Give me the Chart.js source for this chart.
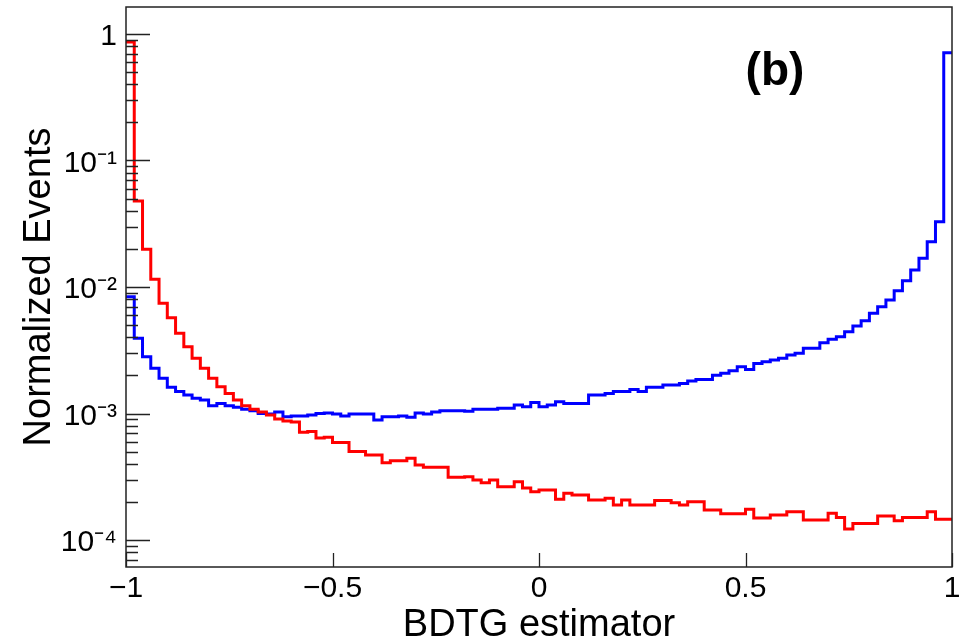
<!DOCTYPE html>
<html><head><meta charset="utf-8">
<script src="https://cdn.jsdelivr.net/npm/chart.js@4/dist/chart.umd.min.js"></script>
<style>html,body{margin:0;padding:0;background:#fff;overflow:hidden;} canvas{display:block;}</style>
</head><body>
<canvas id="c" width="959" height="643"></canvas>
<script>
// ---- data (100 bins from -1 to 1) ----
const xMin = -1, xMax = 1;
const background = [
 0.865, 0.0479, 0.0199, 0.0115, 0.00744, 0.00572, 0.00430, 0.00337, 0.00273, 0.00228,
 0.00190, 0.00163, 0.00144, 0.00128, 0.00115, 0.00108, 0.00103, 0.000973, 0.000905, 0.000873,
 0.000857, 0.00071, 0.00072, 0.00064, 0.00065, 0.00059, 0.00059, 0.00050, 0.00050, 0.00047,
 0.00047, 0.000408, 0.000423, 0.000423, 0.000442, 0.000392, 0.000376, 0.000376, 0.000376, 0.000313,
 0.000313, 0.000316, 0.000298, 0.000284, 0.000298, 0.000264, 0.000264, 0.000289, 0.000258, 0.000241,
 0.000248, 0.000248, 0.000210, 0.000234, 0.000227, 0.000227, 0.000207, 0.000207, 0.000214, 0.000189,
 0.000207, 0.000189, 0.000189, 0.000189, 0.000205, 0.000205, 0.000197, 0.000189, 0.000201, 0.000201,
 0.000173, 0.000173, 0.000161, 0.000161, 0.000161, 0.000175, 0.000149, 0.000149, 0.000158, 0.000158,
 0.000167, 0.000167, 0.000144, 0.000144, 0.000144, 0.000163, 0.000151, 0.000122, 0.000135, 0.000135,
 0.000135, 0.000155, 0.000155, 0.000142, 0.000151, 0.000151, 0.000151, 0.000167, 0.000146, 0.000146
];
const signal = [
 0.00838, 0.00393, 0.00281, 0.00228, 0.00190, 0.00161, 0.00149, 0.00140, 0.00132, 0.00128,
 0.00115, 0.00120, 0.00115, 0.00112, 0.00108, 0.00105, 0.00100, 0.000991, 0.00103, 0.000944,
 0.000955, 0.000955, 0.000973, 0.00100, 0.00101, 0.00099, 0.000955, 0.000991, 0.000991, 0.000991,
 0.000889, 0.000944, 0.000944, 0.000955, 0.000933, 0.00101, 0.000991, 0.00103, 0.00105, 0.00105,
 0.00105, 0.00104, 0.00108, 0.00108, 0.00108, 0.00110, 0.00110, 0.00117, 0.00113, 0.00122,
 0.00113, 0.00117, 0.00124, 0.00120, 0.00120, 0.00120, 0.00140, 0.00140, 0.00144, 0.00149,
 0.00149, 0.00155, 0.00149, 0.00161, 0.00161, 0.00168, 0.00168, 0.00173, 0.00181, 0.00186,
 0.00186, 0.00201, 0.00208, 0.00218, 0.00234, 0.00223, 0.00249, 0.00257, 0.00265, 0.00273,
 0.00290, 0.00299, 0.00328, 0.00328, 0.00363, 0.00386, 0.00405, 0.00443, 0.00492, 0.00542,
 0.00620, 0.00699, 0.00789, 0.00935, 0.0112, 0.0136, 0.0169, 0.0228, 0.0328, 0.711
];
const xTickValues = [-1, -0.5, 0, 0.5, 1];
const xTickLabels = ['\u22121', '\u22120.5', '0', '0.5', '1'];
const yTickValues = [1e-4, 1e-3, 1e-2, 1e-1, 1];
const yTickLabels = ['10\u207B\u2074', '10\u207B\u00B3', '10\u207B\u00B2', '10\u207B\u00B9', '1'];
const xTitle = 'BDTG estimator';
const yTitle = 'Normalized Events';
const panelLabel = '(b)';
const yMin = 6.12e-5, yMax = 1.634;

const FONT = '"Liberation Sans", Arial, Helvetica, sans-serif';

function histPoints(vals) {
  const w = (xMax - xMin) / vals.length;
  const pts = vals.map((v, i) => ({x: xMin + i * w, y: v}));
  pts.push({x: xMax, y: vals[vals.length - 1]});
  return pts;
}

const rootFrame = {
  id: 'rootFrame',
  afterDatasetsDraw(chart) {
    const {ctx, chartArea: a, scales: {x, y}} = chart;
    ctx.save();
    ctx.strokeStyle = '#222';
    ctx.lineWidth = 1.5;
    ctx.strokeRect(a.left, a.top, a.right - a.left, a.bottom - a.top);
    ctx.lineWidth = 1.3;
    ctx.beginPath();
    for (let d = -6; d <= 1; d++) {
      for (let k = 1; k <= 9; k++) {
        const v = k * Math.pow(10, d);
        if (v < y.min || v > y.max) continue;
        const py = Math.round(y.getPixelForValue(v)) + 0.5;
        const len = k === 1 ? 24 : 12;
        ctx.moveTo(a.left, py); ctx.lineTo(a.left + len, py);
      }
    }
    xTickValues.forEach(v => {
      const px = Math.round(x.getPixelForValue(v)) + 0.5;
      ctx.moveTo(px, a.bottom); ctx.lineTo(px, a.bottom - 14);
    });
    ctx.stroke();
    ctx.fillStyle = '#000';
    ctx.font = 'bold 46px ' + FONT;
    ctx.textAlign = 'center';
    ctx.textBaseline = 'alphabetic';
    ctx.fillText(panelLabel, a.left + 0.7857 * (a.right - a.left), a.top + 78);
    ctx.restore();
  }
};

new Chart(document.getElementById('c'), {
  type: 'line',
  data: {
    datasets: [
      {label: 'Background', data: histPoints(background), borderColor: '#ff0000', borderWidth: 3,
       pointRadius: 0, stepped: 'before', fill: false, tension: 0},
      {label: 'Signal', data: histPoints(signal), borderColor: '#0000ff', borderWidth: 3,
       pointRadius: 0, stepped: 'before', fill: false, tension: 0}
    ]
  },
  options: {
    responsive: false,
    animation: false,
    devicePixelRatio: 1,
    layout: {autoPadding: false, padding: {left: 0, right: 7, top: 7, bottom: 0}},
    plugins: {legend: {display: false}, tooltip: {enabled: false}},
    scales: {
      x: {
        type: 'linear', min: xMin, max: xMax,
        afterBuildTicks: s => { s.ticks = xTickValues.map(v => ({value: v})); },
        afterFit: s => { s.height = 76; s.paddingLeft = 0; s.paddingRight = 0; },
        grid: {display: false, drawTicks: false},
        border: {display: false},
        ticks: {
          callback: v => { const i = xTickValues.findIndex(t => Math.abs(t - v) < 1e-9); return i >= 0 ? xTickLabels[i] : ''; },
          font: {family: FONT, size: 30}, color: '#000', padding: 4, autoSkip: false, maxRotation: 0
        },
        title: {display: true, text: xTitle, color: '#000',
                font: {family: FONT, size: 38, lineHeight: 0.9}, padding: {top: 0, bottom: 0}}
      },
      y: {
        type: 'logarithmic', min: yMin, max: yMax, position: 'left',
        afterBuildTicks: s => { s.ticks = yTickValues.map(v => ({value: v, major: true})); },
        afterFit: s => { s.width = 126; s.paddingTop = 0; s.paddingBottom = 0; },
        grid: {display: false, drawTicks: false},
        border: {display: false},
        ticks: {
          callback: v => { const i = yTickValues.findIndex(t => Math.abs(Math.log10(t) - Math.log10(v)) < 1e-6); return i >= 0 ? yTickLabels[i] : ''; },
          font: {family: FONT, size: 30}, color: '#000', padding: 9, labelOffset: 3, autoSkip: false, maxRotation: 0
        },
        title: {display: true, text: yTitle, color: '#000',
                font: {family: FONT, size: 38, lineHeight: 1}, padding: {top: 21, bottom: 0}}
      }
    }
  },
  plugins: [rootFrame]
});
</script>
</body></html>
